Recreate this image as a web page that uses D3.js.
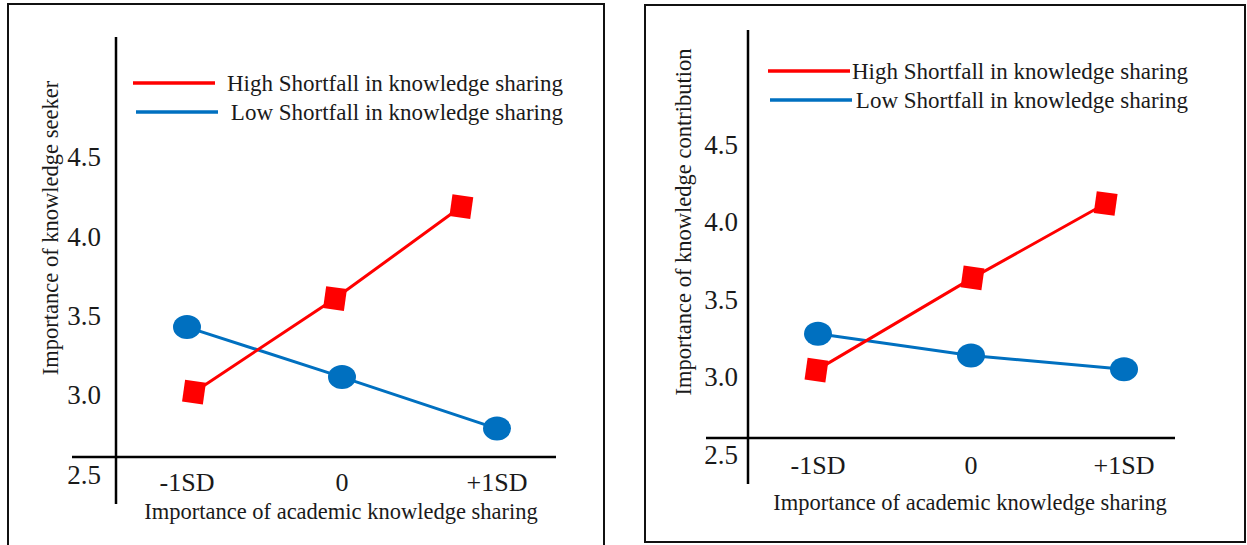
<!DOCTYPE html>
<html>
<head>
<meta charset="utf-8">
<script src="https://cdnjs.cloudflare.com/ajax/libs/d3/7.8.5/d3.min.js"></script>
<style>
    html, body { margin: 0; padding: 0; background: #fff; }
    svg { display: block; }
</style>
</head>
<body>
<div id="d3-container"></div>
<script>
// Data

var categories = ["-1SD", "0", "+1SD"];
var categoryX = [-1, 0, 1];
var yTicks = [2.5, 3.0, 3.5, 4.0, 4.5];
var seriesNames = ["High Shortfall in knowledge sharing", "Low Shortfall in knowledge sharing"];
var xTitle = "Importance of academic knowledge sharing";

// Left chart: knowledge seeker
var seekerTitle = "Importance of knowledge seeker";
var seekerHighX = [-0.955, -0.045, 0.77];
var seekerHighY = [3.02, 3.61, 4.19];
var seekerLowX = [-1, 0, 1];
var seekerLowY = [3.43, 3.115, 2.79];

// Right chart: knowledge contribution
var contribTitle = "Importance of knowledge contribution";
var contribHighX = [-1.01, 0.01, 0.88];
var contribHighY = [3.045, 3.64, 4.12];
var contribLowX = [-1, 0, 1];
var contribLowY = [3.28, 3.14, 3.05];

var red = "#ff0000";
var blue = "#0070c0";
var serif = "'Liberation Serif', Tinos, 'DejaVu Serif', serif";

var width = 1247, height = 545;

var svg = d3.select("#d3-container").append("svg")
    .attr("width", width)
    .attr("height", height);

var addText = function(parent, x, y, str, size, anchor) {
    return parent.append("text")
        .attr("x", x)
        .attr("y", y)
        .attr("text-anchor", anchor)
        .attr("dominant-baseline", "central")
        .attr("fill", "#1a1a1a")
        .style("font-family", serif)
        .style("font-size", size + "px")
        .text(str);
};

var addPanel = function(p) {

    var panel = svg.append("g");

    // Frame
    panel.append("rect")
        .attr("x", p.box[0])
        .attr("y", p.box[1])
        .attr("width", p.box[2])
        .attr("height", p.box[3])
        .attr("fill", "none")
        .attr("stroke", "#111")
        .attr("stroke-width", 2);

    // Scales
    var x = d3.scaleLinear().domain([-1, 1]).range(p.xRange);
    var y = d3.scaleLinear().domain([3.5, 4.5]).range(p.yRange);

    // Axis lines
    panel.append("line")
        .attr("x1", p.yAxisX).attr("x2", p.yAxisX)
        .attr("y1", p.yAxisTop).attr("y2", p.yAxisBottom)
        .attr("stroke", "#000").attr("stroke-width", 2.5);
    panel.append("line")
        .attr("x1", p.xAxisLeft).attr("x2", p.xAxisRight)
        .attr("y1", p.xAxisY).attr("y2", p.xAxisY)
        .attr("stroke", "#000").attr("stroke-width", 2.5);

    // Y tick labels
    yTicks.forEach(function(t) {
        addText(panel, p.tickRight, y(t), d3.format(".1f")(t), 27, "end");
    });

    // X tick labels
    categories.forEach(function(c, i) {
        addText(panel, x(categoryX[i]), p.xTickY, c, 26, "middle");
    });

    // Axis titles
    addText(panel, p.xTitleX, p.xTitleY, xTitle, 22.5, "middle");
    addText(panel, 0, 0, p.yTitle, 22.5, "middle")
        .attr("transform", "translate(" + p.yTitleX + "," + p.yTitleY + ") rotate(-90)");

    // Lines
    var line = d3.line()
        .x(function(d) { return x(d[0]); })
        .y(function(d) { return y(d[1]); });

    var high = d3.zip(p.highX, p.highY);
    var low = d3.zip(p.lowX, p.lowY);

    panel.append("path").datum(low)
        .attr("d", line).attr("fill", "none")
        .attr("stroke", blue).attr("stroke-width", 3);
    panel.append("path").datum(high)
        .attr("d", line).attr("fill", "none")
        .attr("stroke", red).attr("stroke-width", 3);

    // Markers
    panel.selectAll(".dot").data(low).enter().append("ellipse")
        .attr("cx", function(d) { return x(d[0]); })
        .attr("cy", function(d) { return y(d[1]); })
        .attr("rx", 14)
        .attr("ry", 12)
        .attr("fill", blue);
    panel.selectAll(".sq").data(high).enter().append("rect")
        .attr("x", -10.5).attr("y", -11)
        .attr("width", 21).attr("height", 22)
        .attr("transform", function(d) {
            return "translate(" + x(d[0]) + "," + y(d[1]) + ") rotate(8)";
        })
        .attr("fill", red);

    // Legend
    var colors = [red, blue];
    seriesNames.forEach(function(name, i) {
        var ly = p.legendY[i];
        panel.append("line")
            .attr("x1", p.legendLine[i][0]).attr("x2", p.legendLine[i][1])
            .attr("y1", ly).attr("y2", ly)
            .attr("stroke", colors[i]).attr("stroke-width", 3.5);
        addText(panel, p.legendRight, ly, name, 23, "end");
    });

    return panel;
};

// Left chart
addPanel({
    box: [8, 4, 596, 560],
    xRange: [187, 497],
    yRange: [316, 157.4],
    yAxisX: 116, yAxisTop: 37, yAxisBottom: 504,
    xAxisY: 457, xAxisLeft: 72, xAxisRight: 556,
    tickRight: 101, xTickY: 482,
    xTitleX: 341, xTitleY: 511,
    yTitleX: 50, yTitleY: 228, yTitle: seekerTitle,
    highX: seekerHighX, highY: seekerHighY,
    lowX: seekerLowX, lowY: seekerLowY,
    legendY: [83, 112],
    legendLine: [[133, 215], [136, 218]],
    legendRight: 563
});

// Right chart
addPanel({
    box: [645, 5, 600, 537],
    xRange: [818, 1124],
    yRange: [299.6, 144.6],
    yAxisX: 748, yAxisTop: 30, yAxisBottom: 484,
    xAxisY: 438, xAxisLeft: 706, xAxisRight: 1175,
    tickRight: 738, xTickY: 465,
    xTitleX: 970, xTitleY: 502,
    yTitleX: 683, yTitleY: 222, yTitle: contribTitle,
    highX: contribHighX, highY: contribHighY,
    lowX: contribLowX, lowY: contribLowY,
    legendY: [71, 100],
    legendLine: [[768, 850], [770, 852]],
    legendRight: 1188
});
</script>
</body>
</html>
